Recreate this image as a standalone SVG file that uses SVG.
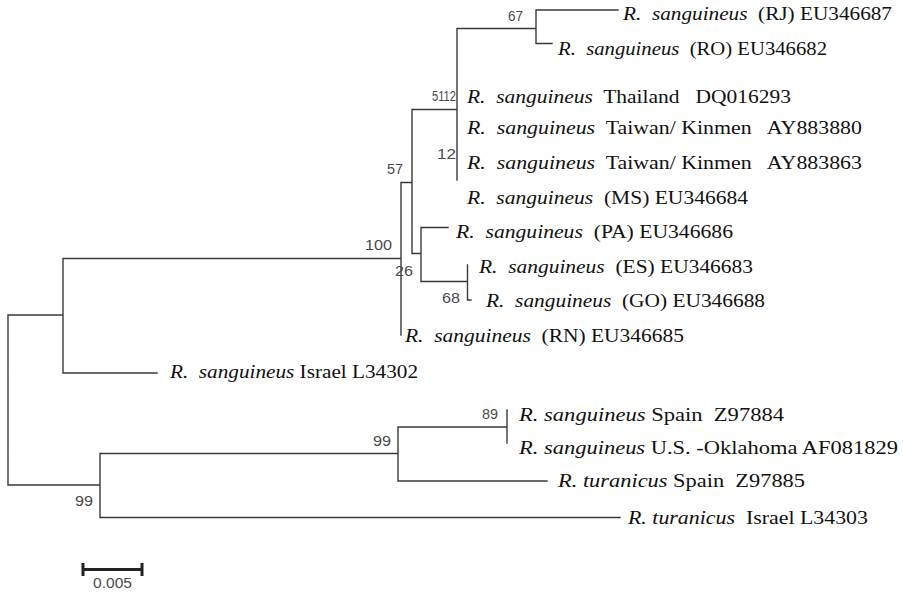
<svg xmlns="http://www.w3.org/2000/svg" width="903" height="595" viewBox="0 0 903 595">
<style>
.br{fill:none;stroke:#3a3a3a;stroke-width:1.4;stroke-linecap:square}
.tip{font-family:"Liberation Serif","Times New Roman",serif;font-size:18.5px;fill:#111;white-space:pre}
.sp{font-style:italic}
.bs{font-family:"Liberation Sans",Arial,sans-serif;font-size:15px;fill:#4a4a4a}
.bar{stroke:#222;stroke-width:3;fill:none}
</style>
<rect width="903" height="595" fill="#fff"/>
<g id="connectors">
<path class="br" d="M8,315V485M8,315H63M8,485H100M63,258.5V373M63,258.5H401M63,373H157M401,182.5V335M401,182.5H412M412,109.5V253.5M412,109.5H457M457,28.5V180M457,28.5H536M536,10V43.5M536,10H618M536,43.5H552M412,253.5H421M421,227.5V281.5M421,227.5H448M421,281.5H467.5M467.5,265V300M467.5,300H471M100,453.5V517.5M100,453.5H398M100,517.5H620M398,427V481M398,427H507M398,481H547M507,410V443"/>
</g>
<g id="tip-RJ"><text class="tip" x="623" y="19.5" textLength="269" lengthAdjust="spacingAndGlyphs"><tspan class="sp">R.  sanguineus</tspan>  (RJ) EU346687</text></g>
<g id="tip-RO"><text class="tip" x="558" y="55" textLength="269" lengthAdjust="spacingAndGlyphs"><tspan class="sp">R.  sanguineus</tspan>  (RO) EU346682</text></g>
<g id="tip-Thailand"><text class="tip" x="467" y="103" textLength="324" lengthAdjust="spacingAndGlyphs"><tspan class="sp">R.  sanguineus</tspan>  Thailand   DQ016293</text></g>
<g id="tip-Taiwan1"><text class="tip" x="467" y="134" textLength="395" lengthAdjust="spacingAndGlyphs"><tspan class="sp">R.  sanguineus</tspan>  Taiwan/ Kinmen   AY883880</text></g>
<g id="tip-Taiwan2"><text class="tip" x="467" y="169" textLength="395" lengthAdjust="spacingAndGlyphs"><tspan class="sp">R.  sanguineus</tspan>  Taiwan/ Kinmen   AY883863</text></g>
<g id="tip-MS"><text class="tip" x="467" y="203.5" textLength="281" lengthAdjust="spacingAndGlyphs"><tspan class="sp">R.  sanguineus</tspan>  (MS) EU346684</text></g>
<g id="tip-PA"><text class="tip" x="456" y="237.5" textLength="277" lengthAdjust="spacingAndGlyphs"><tspan class="sp">R.  sanguineus</tspan>  (PA) EU346686</text></g>
<g id="tip-ES"><text class="tip" x="479" y="272.5" textLength="274" lengthAdjust="spacingAndGlyphs"><tspan class="sp">R.  sanguineus</tspan>  (ES) EU346683</text></g>
<g id="tip-GO"><text class="tip" x="486" y="307" textLength="279" lengthAdjust="spacingAndGlyphs"><tspan class="sp">R.  sanguineus</tspan>  (GO) EU346688</text></g>
<g id="tip-RN"><text class="tip" x="405" y="342" textLength="279" lengthAdjust="spacingAndGlyphs"><tspan class="sp">R.  sanguineus</tspan>  (RN) EU346685</text></g>
<g id="tip-IsraelS"><text class="tip" x="170" y="378" textLength="248" lengthAdjust="spacingAndGlyphs"><tspan class="sp">R.  sanguineus</tspan> Israel L34302</text></g>
<g id="tip-SpainS"><text class="tip" x="519" y="421" textLength="265" lengthAdjust="spacingAndGlyphs"><tspan class="sp">R. sanguineus</tspan> Spain  Z97884</text></g>
<g id="tip-Oklahoma"><text class="tip" x="519" y="454" textLength="379" lengthAdjust="spacingAndGlyphs"><tspan class="sp">R. sanguineus</tspan> U.S. -Oklahoma AF081829</text></g>
<g id="tip-SpainT"><text class="tip" x="558" y="486.5" textLength="247" lengthAdjust="spacingAndGlyphs"><tspan class="sp">R. turanicus</tspan> Spain  Z97885</text></g>
<g id="tip-IsraelT"><text class="tip" x="628" y="524" textLength="240" lengthAdjust="spacingAndGlyphs"><tspan class="sp">R. turanicus</tspan>  Israel L34303</text></g>
<g id="node-67"><text class="bs" x="508" y="20.5" textLength="15" lengthAdjust="spacingAndGlyphs">67</text></g>
<g id="node-5112"><text class="bs" x="432" y="100.5" textLength="24" lengthAdjust="spacingAndGlyphs">5112</text></g>
<g id="node-12"><text class="bs" x="437" y="158.5" textLength="19" lengthAdjust="spacingAndGlyphs">12</text></g>
<g id="node-57"><text class="bs" x="387" y="173.5" textLength="16" lengthAdjust="spacingAndGlyphs">57</text></g>
<g id="node-100"><text class="bs" x="365" y="249.5" textLength="27" lengthAdjust="spacingAndGlyphs">100</text></g>
<g id="node-26"><text class="bs" x="395" y="275.5" textLength="18" lengthAdjust="spacingAndGlyphs">26</text></g>
<g id="node-68"><text class="bs" x="442" y="302.5" textLength="18" lengthAdjust="spacingAndGlyphs">68</text></g>
<g id="node-89"><text class="bs" x="482" y="418.5" textLength="16" lengthAdjust="spacingAndGlyphs">89</text></g>
<g id="node-99a"><text class="bs" x="373" y="445.5" textLength="18" lengthAdjust="spacingAndGlyphs">99</text></g>
<g id="node-99b"><text class="bs" x="75" y="506" textLength="18" lengthAdjust="spacingAndGlyphs">99</text></g>
<g id="scale-bar">
<path class="bar" d="M83,569.5H142M83,563V576M142,563V576"/>
<text class="bs" x="93" y="588" font-size="14" textLength="39" lengthAdjust="spacingAndGlyphs">0.005</text>
</g>
</svg>
